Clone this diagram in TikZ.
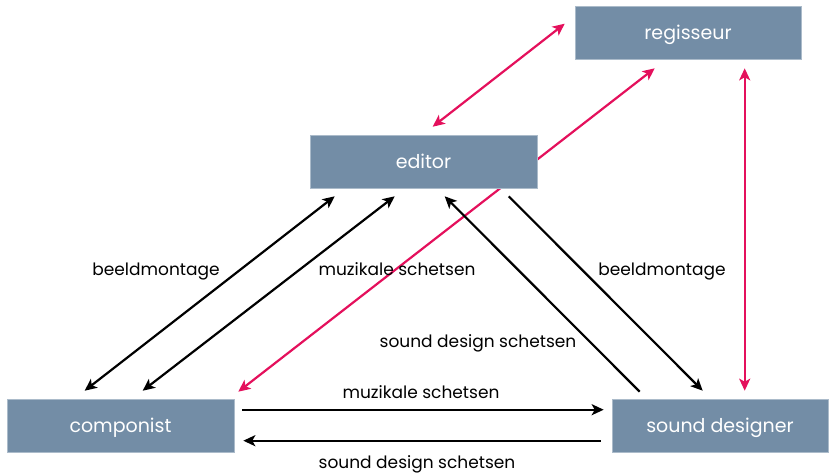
\documentclass[tikz,border=0pt]{standalone}
\usepackage{fontspec}
\setmainfont{Poppins}
\usetikzlibrary{arrows.meta,calc,backgrounds}
\definecolor{boxblue}{RGB}{115,141,166}
\definecolor{linkpink}{RGB}{228,16,92}
\begin{document}
\begin{tikzpicture}[x=1pt,y=-1pt,
  role/.style={fill=boxblue,draw=boxblue!60!white,line width=0.6pt,text=white,
    font=\fontsize{19}{22}\selectfont,minimum height=53pt,inner sep=0pt,
    text height=14pt,text depth=0pt},
  lbl/.style={font=\fontsize{17}{20}\selectfont,text=black,inner sep=0pt,
    text height=11pt,text depth=0pt},
  flow/.style={line width=2.2pt,-{Stealth[length=12pt,width=11pt,inset=3pt]}},
  twoway/.style={line width=2.2pt,{Stealth[length=12pt,width=11pt,inset=3pt]}-{Stealth[length=12pt,width=11pt,inset=3pt]}},
  black link/.style={draw=black},
  pink link/.style={draw=linkpink}]
\useasboundingbox (0,0) rectangle (830,474);

% the four roles
\node[role,minimum width=226pt] (reg) at (688,32.5) {regisseur};
\node[role,minimum width=227pt] (edi) at (423.5,161.5) {editor};
\node[role,minimum width=227pt] (comp) at (120.5,425.5) {componist};
\node[role,minimum width=216pt] (sd) at (720,425.5) {sound designer};

% connectors go behind the boxes
\begin{pgfonlayer}{background}
\draw[twoway,pink link] ($(edi.north west)+(123,-8)$) -- ($(reg.north west)+(-10,18)$);
\draw[twoway,pink link] ($(comp.north east)+(4,-7)$) -- ($(reg.south west)+(80,9)$);
\draw[twoway,pink link] ($(reg.south west)+(170,9)$) -- ($(sd.north west)+(133,-8)$);

\draw[twoway,black link] ($(comp.north west)+(78,-8)$) -- ($(edi.south west)+(25,8)$);
\draw[twoway,black link] ($(comp.north west)+(136,-8)$) -- ($(edi.south west)+(85,8)$);
\draw[flow,black link] ($(sd.north west)+(28,-7)$) -- ($(edi.south west)+(135,8)$);
\draw[flow,black link] ($(edi.south west)+(199,8)$) -- ($(sd.north west)+(91,-8)$);
\draw[flow,black link] ($(comp.north east)+(8,11)$) -- ($(sd.north west)+(-8,11)$);
\draw[flow,black link] ($(sd.north west)+(-11,42)$) -- ($(comp.north east)+(9,42)$);
\end{pgfonlayer}

% connector labels
\node[lbl] (l1) at (156,270) {beeldmontage};
\node[lbl] (l2) at (397,270) {muzikale schetsen};
\node[lbl] (l3) at (662,270) {beeldmontage};
\node[lbl] (l4) at (478,342) {sound design schetsen};
\node[lbl] (l5) at (421,393) {muzikale schetsen};
\node[lbl] (l6) at (417,463) {sound design schetsen};
\end{tikzpicture}
\end{document}
